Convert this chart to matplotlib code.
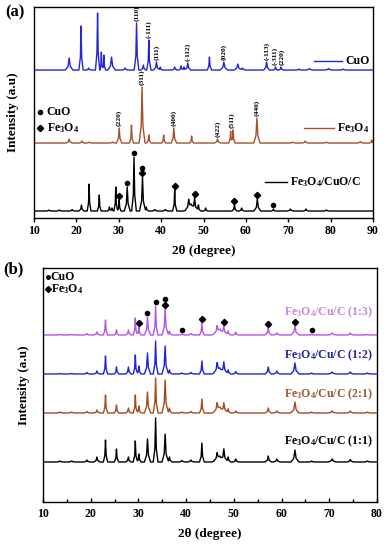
import matplotlib
matplotlib.use('Agg')
import matplotlib.pyplot as plt
import numpy as np

plt.rcParams['font.family'] = ['Liberation Serif', 'DejaVu Serif']
plt.rcParams['font.weight'] = 'bold'
plt.rcParams['mathtext.fontset'] = 'custom'
plt.rcParams['mathtext.rm'] = 'Liberation Serif:bold'
plt.rcParams['mathtext.it'] = 'Liberation Serif:bold'
plt.rcParams['mathtext.bf'] = 'Liberation Serif:bold'
plt.rcParams['mathtext.default'] = 'rm'

FE = r'Fe$_3$O$_4$'

#---------------------------------------------------------------------------------
# (a) peaks: 2theta, height above baseline, half width at base

cuo_pos = [18.3, 21.1, 22.9, 25.0, 25.9, 26.5, 28.3, 31.5, 34.2, 35.8, 37.1, 38.9, 39.8, 43.2,
           44.7, 45.4, 46.3, 51.4, 54.8, 58.1, 59.2, 64.9, 67.0, 68.3, 72.5, 75.0, 79.5, 83.0]
cuo_int = [12, 44, 2, 57, 18, 15, 13, 2, 47, 5, 30, 8, 3, 3,
           4, 3, 7, 13, 8, 6, 2, 8, 3, 3, 1, 1.5, 1.5, 1]
cuo_hw = [0.9, 0.5, 0.6, 0.5, 0.35, 0.4, 0.9, 0.7, 0.55, 0.6, 0.5, 0.7, 0.45, 0.6,
          0.5, 0.5, 0.7, 0.5, 0.9, 0.9, 0.7, 0.7, 0.5, 0.5, 0.7, 0.9, 0.9, 0.7]
cuo_hkl = ['(110)', '(-111)', '(111)', '(-112)', '(020)', '(-113)', '(-311)', '(220)']
cuo_hkl_pos = [34.2, 37.1, 38.9, 46.3, 54.8, 64.9, 66.8, 68.5]

fe_pos = [18.3, 21.3, 23.0, 28.5, 30.1, 33.0, 35.5, 37.1, 40.6, 43.0, 47.2, 53.3, 56.4, 57.0,
          62.6, 71.0, 74.0, 79.0, 87.0, 89.7]
fe_int = [4, 2, 1, 1, 15, 18, 56, 8, 8, 15, 7, 4, 12, 13,
          25, 1, 2, 1, 1.5, 3]
fe_hw = [0.7, 0.6, 0.6, 0.6, 0.65, 0.45, 0.7, 0.5, 0.45, 0.65, 0.45, 0.7, 0.45, 0.45,
         0.75, 0.7, 0.7, 0.7, 0.7, 0.45]
fe_hkl = ['(220)', '(311)', '(400)', '(422)', '(511)', '(440)']
fe_hkl_pos = [30.1, 35.5, 43.0, 53.3, 56.6, 62.6]

comp_pos = [13.5, 16.0, 19.0, 21.2, 23.0, 25.4, 27.8, 28.4, 29.3, 30.1, 32.0, 33.6, 35.6, 36.5,
            38.5, 41.0, 43.2, 46.5, 47.1, 47.9, 48.8, 50.5, 57.3, 59.0, 62.7, 66.5, 70.5, 74.2, 79.0]
comp_int = [1, 1, 1.5, 6, 27, 16, 4, 3, 24, 11, 24, 54, 34, 4,
            1.5, 1.5, 21, 10, 6, 12, 6, 3, 6, 3, 12, 2, 2, 2, 1]
comp_hw = [0.7, 0.7, 0.6, 0.6, 0.45, 0.45, 0.45, 0.45, 0.45, 0.45, 0.7, 0.55, 0.7, 0.55,
           0.7, 0.7, 0.5, 0.8, 1.8, 0.7, 0.55, 0.45, 0.6, 0.6, 0.8, 0.45, 0.8, 0.6, 0.7]
comp_dots = [32.0, 33.6, 35.6, 66.5]
comp_diamonds = [30.1, 35.6, 43.2, 47.9, 57.3, 62.7]

#---------------------------------------------------------------------------------
# (b) peaks, same positions for the four samples

b_pos = [13.5, 16.0, 19.2, 21.3, 23.1, 25.4, 27.9, 29.35, 30.1, 31.9, 33.6, 35.6, 36.5, 39.1,
         41.0, 43.3, 46.5, 47.1, 47.9, 48.8, 50.4, 57.2, 59.0, 62.8, 66.3, 70.6, 74.4, 78.0]
b_hw = [0.7, 0.7, 0.6, 0.6, 0.45, 0.45, 0.55, 0.45, 0.45, 0.65, 0.5, 0.65, 0.55, 0.7,
        0.7, 0.5, 0.8, 1.8, 0.7, 0.55, 0.55, 0.65, 0.7, 0.85, 0.55, 0.9, 0.7, 0.7]
b_11 = [1, 1, 2, 5, 22, 13, 5, 21, 8, 23, 44, 28, 5, 1.5,
        2, 19, 8, 5, 12, 5, 3, 6, 3, 12, 1, 3, 2.5, 1]
b_21 = [1, 1, 1.5, 3, 18, 8, 5, 18, 7, 21, 35, 33, 5, 1,
        1.5, 14, 9, 5, 9, 4, 2, 5, 2, 11, 1, 2, 2, 1]
b_12 = [0.5, 0.5, 1.5, 3, 18, 7, 7, 19, 8, 21, 33, 28, 4, 1,
        1.5, 13, 10, 5, 11, 4, 2.5, 7, 3, 11, 1, 2, 2, 1]
b_13 = [0.5, 0.5, 1.5, 3, 15, 5, 5, 17, 8, 18, 29, 26, 4, 1,
        1.5, 12, 8, 5, 8, 4, 3, 7, 2, 9, 0.5, 2, 2, 0.5]
b_labels = ['(1:3)', '(1:2)', '(2:1)', '(1:1)']
b_dots = [31.9, 33.6, 35.6, 39.1, 66.3]
b_diamonds = [30.1, 35.6, 43.3, 47.9, 57.2, 62.8]


def trace(pos, inten, hw, x0, x1):
    # piecewise peak profile through the read peak tops
    xs = [x0, x1]
    for p, w in zip(pos, hw):
        xs += [p - w, p - 0.3 * w, p, p + 0.3 * w, p + w]
    xs = np.unique(np.clip(xs, x0, x1))
    ys = np.zeros_like(xs)
    for p, h, w in zip(pos, inten, hw):
        ys += np.interp(xs, [p - w, p - 0.3 * w, p, p + 0.3 * w, p + w],
                        [0, 0.3 * h, h, 0.3 * h, 0], left=0, right=0)
    return xs, ys


def top_near(xs, ys, p):
    m = np.abs(xs - p) < 0.45
    return ys[m].max() if m.any() else np.interp(p, xs, ys)


def style_ax(ax, pad):
    for s in ax.spines.values():
        s.set_linewidth(1.0)
    ax.set_yticks([])
    ax.set_ylabel('Intensity (a.u)', fontsize=9.5, fontweight='bold', labelpad=pad)
    ax.set_xlabel(r'2θ (degree)', fontsize=9.5, fontweight='bold', labelpad=6)


fig = plt.figure(figsize=(3.89, 5.5), dpi=100)

#---------------------------------------------------------------------------------
# Painel (a)

ax = fig.add_axes([0.0874, 0.6036, 0.8715, 0.3836])
ax.set_xlim(10, 90)
ax.set_ylim(0, 211)

off_cuo, off_fe, off_comp = 148, 75, 7
x, y = trace(cuo_pos, cuo_int, cuo_hw, 10, 90)
ax.plot(x, y + off_cuo, color='#2424d8', lw=1.0)
for lab, p in zip(cuo_hkl, cuo_hkl_pos):
    ax.text(p, top_near(x, y, p) + off_cuo + 2, lab, rotation=90, ha='center', va='bottom',
            fontsize=5.3)

x, y = trace(fe_pos, fe_int, fe_hw, 10, 90)
ax.plot(x, y + off_fe, color='#a5512a', lw=1.0)
for lab, p in zip(fe_hkl, fe_hkl_pos):
    ax.text(p, top_near(x, y, p) + off_fe + 2, lab, rotation=90, ha='center', va='bottom',
            fontsize=5.3)

x, y = trace(comp_pos, comp_int, comp_hw, 10, 90)
ax.plot(x, y + off_comp, color='black', lw=1.0)
for p in comp_diamonds:
    ax.plot(p, np.interp(p, x, y) + off_comp + 4, 'D', color='black', ms=3.2)
for p in comp_dots:
    extra = 5 if p in comp_diamonds else 0
    ax.plot(p, np.interp(p, x, y) + off_comp + 4 + extra, 'o', color='black', ms=3)

# legenda
ax.plot([76.1, 82.7], [157, 157], color='#2424d8', lw=1.0)
ax.text(83.4, 157, 'CuO', fontsize=8.5, va='center')
ax.plot([73.8, 80.8], [90, 90], color='#a5512a', lw=1.0)
ax.text(81.6, 90, FE, fontsize=8.5, va='center')
ax.plot([64.4, 69.8], [36, 36], color='black', lw=1.0)
ax.text(70.5, 36, FE + '/CuO/C', fontsize=8.5, va='center')

ax.plot(11.4, 106, 'o', color='black', ms=3)
ax.text(13.0, 106, 'CuO', fontsize=8.5, va='center')
ax.plot(11.4, 90, 'D', color='black', ms=3.2)
ax.text(13.0, 90, FE, fontsize=8.5, va='center')

ax.set_xticks(np.arange(10, 91, 10))
ax.tick_params(axis='x', direction='out', length=3, width=1, labelsize=8.5, pad=2)
style_ax(ax, 11)
fig.text(0.013, 0.978, '(a)', fontsize=12, fontweight='bold', va='center')

#---------------------------------------------------------------------------------
# Painel (b)

bx = fig.add_axes([0.1105, 0.0873, 0.8587, 0.4255])
bx.set_xlim(10, 80)
bx.set_ylim(0, 234)

samples = [b_13, b_12, b_21, b_11]
offsets = [167, 128, 89, 40]
line_cols = ['#b653e6', '#2222d4', '#a8481f', 'black']
text_cols = ['#c488dc', '#22229a', '#9c5530', 'black']
label_y = [190, 147, 108, 61]

for inten, off, lc, tc, lab, ly in zip(samples, offsets, line_cols, text_cols, b_labels, label_y):
    x, y = trace(b_pos, inten, b_hw, 10, 80)
    bx.plot(x, y + off, color=lc, lw=1.0)
    bx.text(79.0, ly, FE + '/Cu/C ' + lab, color=tc, fontsize=8.5, ha='right', va='center')
    if lab == '(1:3)':
        for p in b_diamonds:
            bx.plot(p, np.interp(p, x, y) + off + 4, 'D', color='black', ms=3.2)
        for p in b_dots:
            extra = 6 if p in b_diamonds else 0
            bx.plot(p, np.interp(p, x, y) + off + 4 + extra, 'o', color='black', ms=3)

bx.plot(11.0, 224.5, 'o', color='black', ms=2.5)
bx.text(11.6, 224.5, 'CuO', fontsize=8.5, va='center')
bx.plot(11.0, 213, 'D', color='black', ms=3)
bx.text(11.6, 213, FE, fontsize=8.5, va='center')

bx.set_xticks(np.arange(10, 81, 10))
bx.set_xticks(np.arange(15, 80, 10), minor=True)
bx.tick_params(axis='x', which='major', direction='in', length=3, width=1, labelsize=8.5, pad=4)
bx.tick_params(axis='x', which='minor', direction='in', length=2, width=1)
style_ax(bx, 9.5)
fig.text(0.008, 0.511, '(b)', fontsize=12, fontweight='bold', va='center')

plt.savefig('out.png', dpi=100)
